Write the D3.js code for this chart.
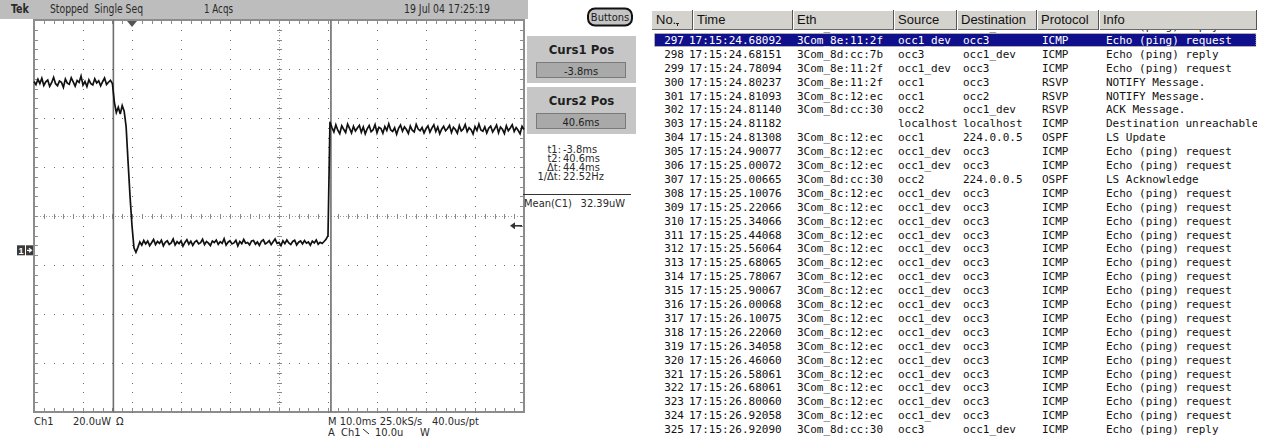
<!DOCTYPE html>
<html>
<head>
<meta charset="utf-8">
<script src="https://cdn.jsdelivr.net/npm/d3@7"></script>
<style>
  body { margin: 0; background: #fff; }
  svg { display: block; }
  text { font-family: "Liberation Sans", Arial, sans-serif; }
  .mono { font-family: "DejaVu Sans Mono", monospace; font-size: 11px; }
</style>
</head>
<body>
<svg id="chart" width="1270" height="439"></svg>
<script>
// ---------- scope capture ----------
const timeDomain = [-20, 80];        // ms, 10 ms/div, trigger 2 div from left
const uwPerDiv = 20;                 // Ch1 20.0uW/div
const ch1OffsetDiv = -0.7;           // ground marker below centre
const sampleStart = -20, sampleStep = 0.4;   // ms
const cursorTimes = [-3.8, 40.6];
const triggerLevel = 10;             // uW, falling edge

// Ch1 trace in uW, one value per 0.4 ms
const traceUW = [
  // -20 .. -4 ms
  68.9, 67.6, 69.8, 68.1, 70.2, 67.3, 68.8, 69.5, 66.9, 68.4,
  70.6, 68.0, 67.2, 69.1, 68.6, 66.5, 69.9, 68.2, 67.8, 70.4,
  68.7, 67.0, 69.3, 68.5, 71.1, 67.4, 68.9, 66.8, 69.6, 68.0,
  67.5, 70.0, 68.3, 69.2, 67.1, 68.8, 70.3, 67.7, 68.6, 69.4,
  68.1,
  // -3.6 .. -1.6 ms
  60.5, 56.2, 58.4, 55.6, 59.1, 56.8,
  // falling edge -1.2 .. 1.2 ms
  50.5, 36, 22, 10, 1, -0.8, 1.2,
  // 1.6 .. 39.2 ms
  3.4, 2.1, 4.0, 2.6, 3.8, 1.9, 3.1, 4.4, 2.3, 3.6,
  2.8, 4.1, 1.8, 3.3, 3.9, 2.4, 3.0, 4.6, 2.2, 3.5,
  2.7, 3.9, 1.7, 3.2, 4.3, 2.5, 3.7, 2.0, 3.4, 4.0,
  2.6, 3.1, 4.5, 2.3, 3.6, 2.9, 1.9, 3.8, 3.2, 4.2,
  2.4, 3.5, 2.8, 4.7, 2.1, 3.3, 3.9, 2.6, 3.0, 4.1,
  1.8, 3.6, 2.7, 4.4, 2.9, 3.2, 2.2, 3.8, 4.0, 2.5,
  3.4, 2.0, 3.7, 4.3, 2.6, 3.1, 3.9, 2.3, 3.5, 4.6,
  2.8, 3.2, 1.9, 3.9, 2.7, 4.2, 3.0, 2.4, 3.6, 4.1,
  2.2, 3.3, 3.8, 2.6, 4.0, 2.9, 3.4, 2.1, 3.7, 3.0,
  4.2, 2.5, 3.3, 2.8, 3.6,
  // 39.6 .. 40.0 ms
  4.5, 6.0,
  // 40.4 .. 80 ms
  52.5, 50.1, 48.3, 51.2, 49.0, 47.6, 50.8, 49.4, 48.1, 51.5,
  49.8, 47.9, 50.6, 48.7, 49.9, 51.0, 48.2, 50.3, 47.5, 49.6,
  50.9, 48.4, 49.2, 51.3, 48.0, 50.2, 49.7, 47.8, 50.5, 48.9,
  51.6, 49.1, 48.5, 50.0, 47.4, 49.8, 51.1, 48.6, 50.4, 49.3,
  47.7, 50.7, 49.0, 48.3, 51.4, 49.5, 48.8, 50.1, 47.9, 49.6,
  50.8, 48.2, 49.9, 51.2, 48.5, 50.3, 47.6, 49.4, 50.6, 48.8,
  49.7, 51.0, 48.1, 50.2, 49.3, 47.8, 50.9, 48.7, 49.5, 51.3,
  48.4, 50.0, 49.2, 47.5, 50.5, 48.9, 51.5, 49.1, 48.6, 50.4,
  47.9, 49.8, 50.7, 48.3, 49.6, 51.1, 48.0, 50.3, 49.4, 47.7,
  50.8, 48.8, 49.9, 51.2, 48.5, 50.1, 49.0, 47.6, 50.6, 49.3
];

const statusLabels = ["Tek", "Stopped  Single Seq", "1 Acqs", "19 Jul 04 17:25:19"];
const cursorTitles = ["Curs1 Pos", "Curs2 Pos"];
const cursorValues = ["-3.8ms", "40.6ms"];
const readoutLabels = ["t1:", "t2:", "\u0394t:", "1/\u0394t:"];
const readoutValues = ["-3.8ms", "40.6ms", "44.4ms", "22.52Hz"];
const measLabel = "Mean(C1)", measValue = "32.39uW";

// ---------- packet list ----------
const columnNames = ["No.", "Time", "Eth", "Source", "Destination", "Protocol", "Info"];
const packetNo = d3.range(296, 326);
const packetTime = [
  "17:15:24.58151", "17:15:24.68092", "17:15:24.68151", "17:15:24.78094", "17:15:24.80237",
  "17:15:24.81093", "17:15:24.81140", "17:15:24.81182", "17:15:24.81308", "17:15:24.90077",
  "17:15:25.00072", "17:15:25.00665", "17:15:25.10076", "17:15:25.22066", "17:15:25.34066",
  "17:15:25.44068", "17:15:25.56064", "17:15:25.68065", "17:15:25.78067", "17:15:25.90067",
  "17:15:26.00068", "17:15:26.10075", "17:15:26.22060", "17:15:26.34058", "17:15:26.46060",
  "17:15:26.58061", "17:15:26.68061", "17:15:26.80060", "17:15:26.92058", "17:15:26.92090"
];
const packetEth = [
  "3Com_8d:cc:7b", "3Com_8e:11:2f", "3Com_8d:cc:7b", "3Com_8e:11:2f", "3Com_8e:11:2f",
  "3Com_8c:12:ec", "3Com_8d:cc:30", "", "3Com_8c:12:ec", "3Com_8c:12:ec",
  "3Com_8c:12:ec", "3Com_8d:cc:30", "3Com_8c:12:ec", "3Com_8c:12:ec", "3Com_8c:12:ec",
  "3Com_8c:12:ec", "3Com_8c:12:ec", "3Com_8c:12:ec", "3Com_8c:12:ec", "3Com_8c:12:ec",
  "3Com_8c:12:ec", "3Com_8c:12:ec", "3Com_8c:12:ec", "3Com_8c:12:ec", "3Com_8c:12:ec",
  "3Com_8c:12:ec", "3Com_8c:12:ec", "3Com_8c:12:ec", "3Com_8c:12:ec", "3Com_8d:cc:30"
];
const packetSrc = [
  "occ3", "occ1_dev", "occ3", "occ1_dev", "occ1", "occ1", "occ2", "localhost", "occ1", "occ1_dev",
  "occ1_dev", "occ2", "occ1_dev", "occ1_dev", "occ1_dev", "occ1_dev", "occ1_dev", "occ1_dev", "occ1_dev", "occ1_dev",
  "occ1_dev", "occ1_dev", "occ1_dev", "occ1_dev", "occ1_dev", "occ1_dev", "occ1_dev", "occ1_dev", "occ1_dev", "occ3"
];
const packetDst = [
  "occ1_dev", "occ3", "occ1_dev", "occ3", "occ3", "occ2", "occ1_dev", "localhost", "224.0.0.5", "occ3",
  "occ3", "224.0.0.5", "occ3", "occ3", "occ3", "occ3", "occ3", "occ3", "occ3", "occ3",
  "occ3", "occ3", "occ3", "occ3", "occ3", "occ3", "occ3", "occ3", "occ3", "occ1_dev"
];
const packetProto = [
  "ICMP", "ICMP", "ICMP", "ICMP", "RSVP", "RSVP", "RSVP", "ICMP", "OSPF", "ICMP",
  "ICMP", "OSPF", "ICMP", "ICMP", "ICMP", "ICMP", "ICMP", "ICMP", "ICMP", "ICMP",
  "ICMP", "ICMP", "ICMP", "ICMP", "ICMP", "ICMP", "ICMP", "ICMP", "ICMP", "ICMP"
];
const packetInfo = [
  "Echo (ping) reply", "Echo (ping) request", "Echo (ping) reply", "Echo (ping) request", "NOTIFY Message.",
  "NOTIFY Message.", "ACK Message.", "Destination unreachable", "LS Update", "Echo (ping) request",
  "Echo (ping) request", "LS Acknowledge", "Echo (ping) request", "Echo (ping) request", "Echo (ping) request",
  "Echo (ping) request", "Echo (ping) request", "Echo (ping) request", "Echo (ping) request", "Echo (ping) request",
  "Echo (ping) request", "Echo (ping) request", "Echo (ping) request", "Echo (ping) request", "Echo (ping) request",
  "Echo (ping) request", "Echo (ping) request", "Echo (ping) request", "Echo (ping) request", "Echo (ping) reply"
];
const selectedNo = 297;

const svg = d3.select("#chart");

// =============== oscilloscope ===============
const plot = { left: 34, right: 524, top: 20, bottom: 412 };
const x = d3.scaleLinear().domain(timeDomain).range([plot.left, plot.right]);
const yDiv = d3.scaleLinear().domain([-4, 4]).range([plot.bottom, plot.top]);
const y = d3.scaleLinear()
  .domain([(-4 - ch1OffsetDiv) * uwPerDiv, (4 - ch1OffsetDiv) * uwPerDiv])
  .range([plot.bottom, plot.top]);

const scope = svg.append("g");
const tekFont = "'Liberation Sans Narrow', 'DejaVu Sans Condensed', 'Liberation Sans', sans-serif";

// status bar
scope.append("rect")
  .attr("x", 0).attr("y", 0).attr("width", 528).attr("height", 19)
  .attr("fill", "#bdbdbd");
const statusX = [11, 50, 204, 404];
const statusW = [18, 93, 29, 86];
scope.selectAll("text.status")
  .data(statusLabels)
  .join("text")
  .attr("class", "status")
  .attr("x", (d, i) => statusX[i])
  .attr("y", 13)
  .attr("textLength", (d, i) => statusW[i])
  .attr("lengthAdjust", "spacingAndGlyphs")
  .style("font-family", tekFont)
  .style("font-size", (d, i) => i == 0 ? "12px" : "11.5px")
  .style("font-weight", (d, i) => i == 0 ? "bold" : "normal")
  .attr("fill", "#2a2a2a")
  .attr("xml:space", "preserve")
  .text(d => d);

// Buttons
scope.append("rect")
  .attr("x", 588).attr("y", 8.5).attr("width", 44).attr("height", 17).attr("rx", 7)
  .attr("fill", "#c4c4c4").attr("stroke", "#111").attr("stroke-width", 2);
scope.append("text")
  .attr("x", 610).attr("y", 21)
  .style("text-anchor", "middle")
  .style("font-family", tekFont).style("font-size", "11px")
  .attr("fill", "#1a1a1a")
  .text("Buttons");

// graticule
const grid = scope.append("g").attr("shape-rendering", "crispEdges");
const centerT = (timeDomain[0] + timeDomain[1]) / 2;
const majorT = x.ticks(10);
const minorT = d3.range(timeDomain[0], timeDomain[1] + 0.01, 2);
const minorD = d3.range(-4, 4.01, 0.2);
const majorD = d3.range(-4, 5);

grid.append("rect")
  .attr("x", plot.left).attr("y", plot.top)
  .attr("width", plot.right - plot.left).attr("height", plot.bottom - plot.top)
  .attr("fill", "none").attr("stroke", "#8c8c8c").attr("stroke-width", 1.5);

// dotted major lines
majorT.filter(t => t > timeDomain[0] && t < timeDomain[1] && t != centerT).forEach(t => {
  grid.append("g").selectAll("rect")
    .data(minorD)
    .join("rect")
    .attr("x", Math.round(x(t))).attr("y", d => Math.round(yDiv(d)))
    .attr("width", 1).attr("height", 1)
    .attr("fill", "#6e6e6e");
});
majorD.filter(d => d > -4 && d < 4 && d != 0).forEach(d => {
  grid.append("g").selectAll("rect")
    .data(minorT)
    .join("rect")
    .attr("x", t => Math.round(x(t))).attr("y", Math.round(yDiv(d)))
    .attr("width", 1).attr("height", 1)
    .attr("fill", "#6e6e6e");
});

// centre cross with minor ticks
grid.append("line")
  .attr("x1", Math.round(x(centerT)) + 0.5).attr("x2", Math.round(x(centerT)) + 0.5)
  .attr("y1", plot.top).attr("y2", plot.bottom)
  .attr("stroke", "#9a9a9a").attr("stroke-dasharray", "1,2");
grid.append("line")
  .attr("x1", plot.left).attr("x2", plot.right)
  .attr("y1", Math.round(yDiv(0)) + 0.5).attr("y2", Math.round(yDiv(0)) + 0.5)
  .attr("stroke", "#9a9a9a").attr("stroke-dasharray", "1,2");
grid.append("g").selectAll("line")
  .data(minorD)
  .join("line")
  .attr("x1", Math.round(x(centerT)) - 2).attr("x2", Math.round(x(centerT)) + 3)
  .attr("y1", d => Math.round(yDiv(d)) + 0.5).attr("y2", d => Math.round(yDiv(d)) + 0.5)
  .attr("stroke", "#8a8a8a");
grid.append("g").selectAll("line")
  .data(minorT)
  .join("line")
  .attr("x1", t => Math.round(x(t)) + 0.5).attr("x2", t => Math.round(x(t)) + 0.5)
  .attr("y1", Math.round(yDiv(0)) - 2).attr("y2", Math.round(yDiv(0)) + 3)
  .attr("stroke", "#8a8a8a");

// border ticks
const edgeTicks = grid.append("g").attr("stroke", "#8c8c8c");
minorT.forEach(t => {
  const px = Math.round(x(t)) + 0.5;
  edgeTicks.append("line").attr("x1", px).attr("x2", px).attr("y1", plot.top).attr("y2", plot.top + 4);
  edgeTicks.append("line").attr("x1", px).attr("x2", px).attr("y1", plot.bottom).attr("y2", plot.bottom - 4);
});
minorD.forEach(d => {
  const py = Math.round(yDiv(d)) + 0.5;
  edgeTicks.append("line").attr("x1", plot.left).attr("x2", plot.left + 4).attr("y1", py).attr("y2", py);
  edgeTicks.append("line").attr("x1", plot.right).attr("x2", plot.right - 4).attr("y1", py).attr("y2", py);
});

// cursors
scope.selectAll("line.cursor")
  .data(cursorTimes)
  .join("line")
  .attr("class", "cursor")
  .attr("x1", d => x(d)).attr("x2", d => x(d))
  .attr("y1", plot.top).attr("y2", plot.bottom)
  .attr("stroke", "#6e6e6e").attr("stroke-width", 1.6);

// trigger position marker
const tx = x(0);
scope.append("path")
  .attr("d", `M${tx - 5},${plot.top + 1}L${tx + 5},${plot.top + 1}L${tx},${plot.top + 7}Z`)
  .attr("fill", "#555");

// trace
const line = d3.line()
  .x((d, i) => x(sampleStart + i * sampleStep))
  .y(d => y(d));
scope.append("path")
  .datum(traceUW)
  .attr("d", line)
  .attr("fill", "none")
  .attr("stroke", "#111")
  .attr("stroke-width", 1.7)
  .attr("stroke-linejoin", "miter");

// ground marker "1"
const gy = y(0);
scope.append("rect").attr("x", 17).attr("y", gy - 5).attr("width", 8).attr("height", 10).attr("fill", "#3a3a3a");
scope.append("rect").attr("x", 26).attr("y", gy - 5).attr("width", 7).attr("height", 10).attr("fill", "#3a3a3a");
scope.append("text").attr("x", 21).attr("y", gy + 3.5)
  .style("text-anchor", "middle").style("font-size", "9px").style("font-weight", "bold")
  .attr("fill", "#fff").text("1");
scope.append("path")
  .attr("d", `M27,${gy}L31,${gy}M29,${gy - 2}L31.5,${gy}L29,${gy + 2}`)
  .attr("stroke", "#fff").attr("stroke-width", 1.2).attr("fill", "none");

// trigger level arrow
const ty = y(triggerLevel);
scope.append("path")
  .attr("d", `M512,${ty}L522,${ty}`)
  .attr("stroke", "#333").attr("stroke-width", 1.6);
scope.append("path")
  .attr("d", `M510,${ty}L515,${ty - 3.5}L515,${ty + 3.5}Z`)
  .attr("fill", "#333");

// cursor boxes
cursorTitles.forEach((title, i) => {
  const top = 36 + i * 51;
  scope.append("rect").attr("x", 527).attr("y", top).attr("width", 109).attr("height", 47)
    .attr("fill", "#c6c6c6");
  scope.append("text").attr("x", 581.5).attr("y", top + 18)
    .style("text-anchor", "middle").style("font-family", tekFont)
    .style("font-size", "13px").style("font-weight", "bold")
    .attr("fill", "#1e1e1e").text(title);
  scope.append("rect").attr("x", 536.5).attr("y", top + 26.5).attr("width", 89).attr("height", 15)
    .attr("fill", "#a9a9a9").attr("stroke", "#7a7a7a");
  scope.append("text").attr("x", 581).attr("y", top + 38.5)
    .style("text-anchor", "middle").style("font-family", tekFont).style("font-size", "11px")
    .attr("fill", "#1e1e1e").text(cursorValues[i]);
});

// cursor readout
readoutLabels.forEach((lab, i) => {
  const ly = 152.5 + i * 9;
  scope.append("text").attr("x", 561).attr("y", ly)
    .style("text-anchor", "end").style("font-family", tekFont).style("font-size", "11px")
    .attr("fill", "#2a2a2a").text(lab);
  scope.append("text").attr("x", 563).attr("y", ly)
    .style("font-family", tekFont).style("font-size", "11px")
    .attr("fill", "#2a2a2a").text(readoutValues[i]);
});

// measurement
scope.append("line").attr("x1", 523).attr("x2", 631).attr("y1", 194.5).attr("y2", 194.5)
  .attr("stroke", "#333").attr("stroke-width", 1);
scope.append("text").attr("x", 524).attr("y", 207)
  .style("font-family", tekFont).style("font-size", "11px").attr("fill", "#2a2a2a").text(measLabel);
scope.append("text").attr("x", 625).attr("y", 207).style("text-anchor", "end")
  .style("font-family", tekFont).style("font-size", "11px").attr("fill", "#2a2a2a").text(measValue);

// bottom settings
const bottomText = [
  { t: "Ch1", x: 34, y: 425 }, { t: "20.0uW", x: 73, y: 425 }, { t: "\u03a9", x: 116, y: 425 },
  { t: "M 10.0ms 25.0kS/s", x: 328, y: 425 }, { t: "40.0us/pt", x: 432, y: 425 },
  { t: "A  Ch1", x: 328, y: 436 }, { t: "10.0u", x: 375, y: 436 }, { t: "W", x: 420, y: 436 }
];
scope.selectAll("text.bottom")
  .data(bottomText)
  .join("text")
  .attr("class", "bottom")
  .attr("x", d => d.x).attr("y", d => d.y)
  .attr("xml:space", "preserve")
  .style("font-family", tekFont).style("font-size", "11px")
  .attr("fill", "#2a2a2a")
  .text(d => d.t);
scope.append("path").attr("d", "M363,429L369,434").attr("stroke", "#2a2a2a").attr("stroke-width", 1);

// =============== packet list ===============
const table = svg.append("g");
const colX = [652, 693, 793, 894, 957, 1037, 1099, 1257];
const headTop = 9.5, headBottom = 29.5;
const rowY = d3.scaleLinear().domain([296, 325]).range([26.1, 429.2]);

const rows = packetNo.map((n, i) => ({
  no: n, time: packetTime[i], eth: packetEth[i], src: packetSrc[i],
  dst: packetDst[i], proto: packetProto[i], info: packetInfo[i]
}));

svg.append("defs").append("clipPath").attr("id", "bodyClip")
  .append("rect").attr("x", colX[0]).attr("y", headBottom)
  .attr("width", colX[7] - colX[0]).attr("height", 439 - headBottom);

const body = table.append("g").attr("clip-path", "url(#bodyClip)");

// selection bar
body.append("rect")
  .attr("x", 654.5).attr("y", rowY(selectedNo) - 6.5)
  .attr("width", 1256 - 654.5).attr("height", 13)
  .attr("fill", "#10108c")
  .attr("stroke", "#d8d49a").attr("stroke-width", 1).attr("stroke-dasharray", "1,1");

const textCols = [
  { key: "time", x: 689 }, { key: "eth", x: 797 }, { key: "src", x: 898 },
  { key: "dst", x: 963 }, { key: "proto", x: 1042 }, { key: "info", x: 1106 }
];

const rowG = body.selectAll("g.row")
  .data(rows)
  .join("g")
  .attr("class", "row")
  .attr("transform", d => `translate(0,${rowY(d.no)})`);

rowG.append("text")
  .attr("class", "mono")
  .attr("x", 684).attr("dy", "0.36em")
  .style("text-anchor", "end")
  .attr("fill", d => d.no == selectedNo ? "#fff" : "#111")
  .text(d => d.no);

textCols.forEach(c => {
  rowG.append("text")
    .attr("class", "mono")
    .attr("x", c.x).attr("dy", "0.36em")
    .attr("fill", d => d.no == selectedNo ? "#fff" : "#111")
    .text(d => d[c.key]);
});

// header
const head = table.append("g").attr("shape-rendering", "crispEdges");
head.append("rect")
  .attr("x", colX[0]).attr("y", headTop)
  .attr("width", colX[7] - colX[0]).attr("height", headBottom - headTop)
  .attr("fill", "#d4d2cc");
head.append("line").attr("x1", colX[0]).attr("x2", colX[7]).attr("y1", headTop + 0.5).attr("y2", headTop + 0.5)
  .attr("stroke", "#fff");
head.append("line").attr("x1", colX[0]).attr("x2", colX[7]).attr("y1", headBottom - 0.5).attr("y2", headBottom - 0.5)
  .attr("stroke", "#6a6a6a");
colX.slice(1).forEach(cx => {
  head.append("line").attr("x1", cx - 0.5).attr("x2", cx - 0.5).attr("y1", headTop).attr("y2", headBottom)
    .attr("stroke", "#555");
  head.append("line").attr("x1", cx + 0.5).attr("x2", cx + 0.5).attr("y1", headTop).attr("y2", headBottom)
    .attr("stroke", "#fff");
});
head.selectAll("text")
  .data(columnNames)
  .join("text")
  .attr("x", (d, i) => colX[i] + 4)
  .attr("y", 24)
  .style("font-size", "13px")
  .attr("fill", "#111")
  .text(d => d);
// sort indicator on "No."
head.append("path")
  .attr("d", "M676,23L679,23L677.5,26Z")
  .attr("fill", "#222");
</script>
</body>
</html>
